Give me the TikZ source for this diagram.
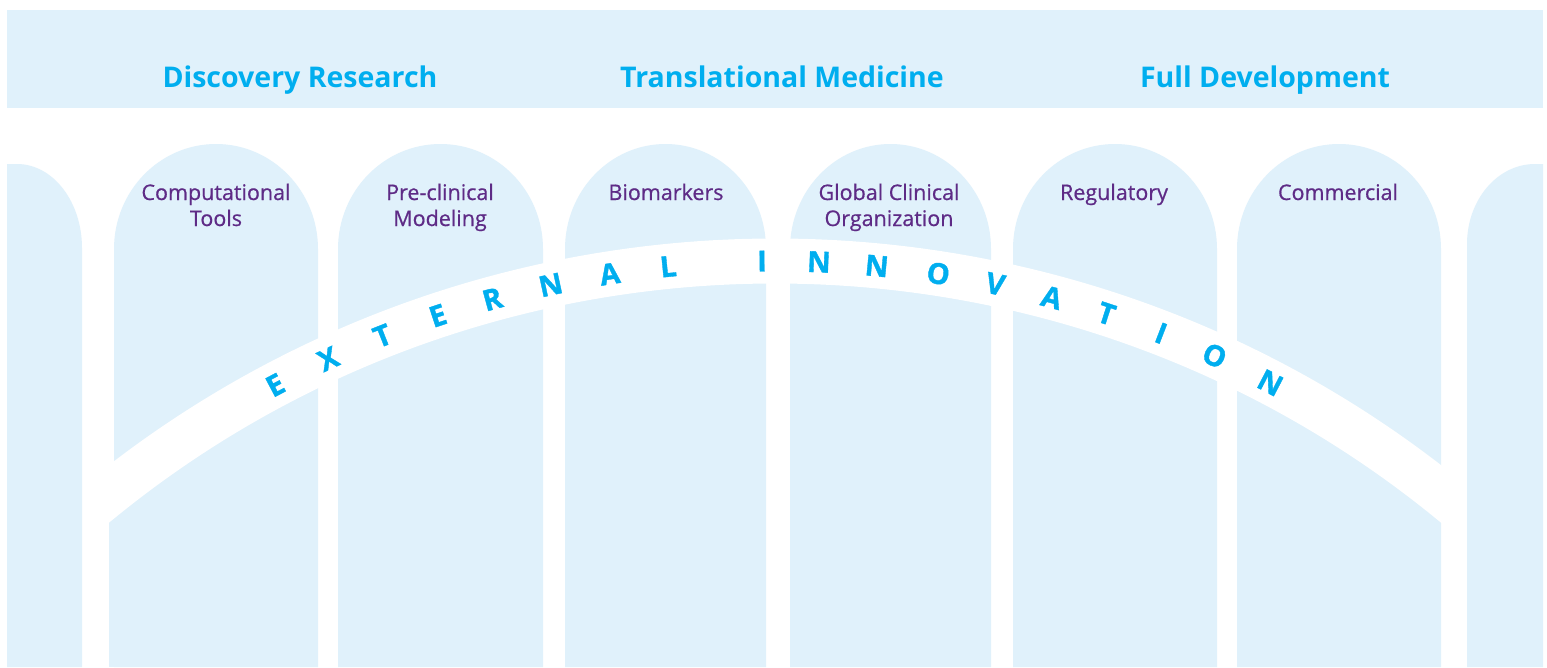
\documentclass[tikz,border=0pt]{standalone}
\usepackage{fontspec}
\setmainfont{Open Sans}
\definecolor{paleblue}{HTML}{E0F1FB}
\definecolor{headcyan}{HTML}{00AEEF}
\definecolor{labelpurple}{HTML}{5E2B86}
\tikzset{
  pillar/.style={fill=paleblue},
  heading/.style={font=\bfseries\fontsize{28.5}{34}\selectfont, text=headcyan, anchor=base, inner sep=0pt},
  plabel/.style={font=\fontsize{21.5}{26}\selectfont\addfontfeature{FakeBold=0.6}, text=labelpurple, align=center, anchor=base, inner sep=0pt},
  arcletter/.style={font=\bfseries\fontsize{29}{29}\selectfont\addfontfeature{FakeBold=1.2}, text=headcyan, inner sep=0pt},
}
\begin{document}
\begin{tikzpicture}[x=1pt,y=1pt]
\useasboundingbox (0,0) rectangle (1547,-667);
\fill[white] (0,0) rectangle (1547,-667);
% top band
\fill[paleblue] (7,-10) rectangle (1543,-108);
\node[heading] (h1) at (300,-87) {Discovery Research};
\node[heading] (h2) at (782,-87) {Translational Medicine};
\node[heading] (h3) at (1265,-87) {Full Development};
% partial pillars
\fill[pillar] (7,-667) -- (7,-164) -- (17,-164) arc[start angle=90,end angle=0,x radius=65,y radius=84] -- (82,-667) -- cycle;
\fill[pillar] (1543,-667) -- (1543,-164) -- (1535,-164) arc[start angle=90,end angle=180,x radius=68,y radius=80] -- (1467,-667) -- cycle;
% full pillars
\foreach \xl/\xr in {114/318, 338/543, 565/766, 790/991, 1013/1217, 1237/1441}{
  \fill[pillar] (\xl,-667) -- (\xl,-249) arc[start angle=180,end angle=0,x radius={(\xr-\xl)/2},y radius=105] -- (\xr,-667) -- cycle;
}
\fill[pillar] (109,-470) rectangle (115,-667);
% arc band
\begin{scope}
\clip (95,0) rectangle (1455,-667);
\draw[white,line width=45pt] (775,-1330) ++(135:1069) arc[start angle=135,end angle=45,radius=1069];
\end{scope}
% pillar labels (base = baseline of the last line)
\node[plabel] (l1) at (216,-226) {Computational\\Tools};
\node[plabel] (l2) at (440,-226) {Pre-clinical\\Modeling};
\node[plabel] (l3) at (666,-200) {Biomarkers};
\node[plabel] (l4) at (889,-226) {Global Clinical\\Organization};
\node[plabel] (l5) at (1114,-200) {Regulatory};
\node[plabel] (l6) at (1338,-200) {Commercial};
% arc letters
\foreach \l/\s [count=\i] in {E/-520,X/-461,T/-402,E/-343,R/-286,N/-226,A/-166,L/-107,I/-13,N/44,N/102,O/164,V/222,A/280,T/337,I/395,O/453,N/515}{
  \path (775,-1330) ++({90-\s*0.0535976}:1069) node[arcletter,rotate={-\s*0.0535976}] (a\i) {\l};
}
\end{tikzpicture}
\end{document}
